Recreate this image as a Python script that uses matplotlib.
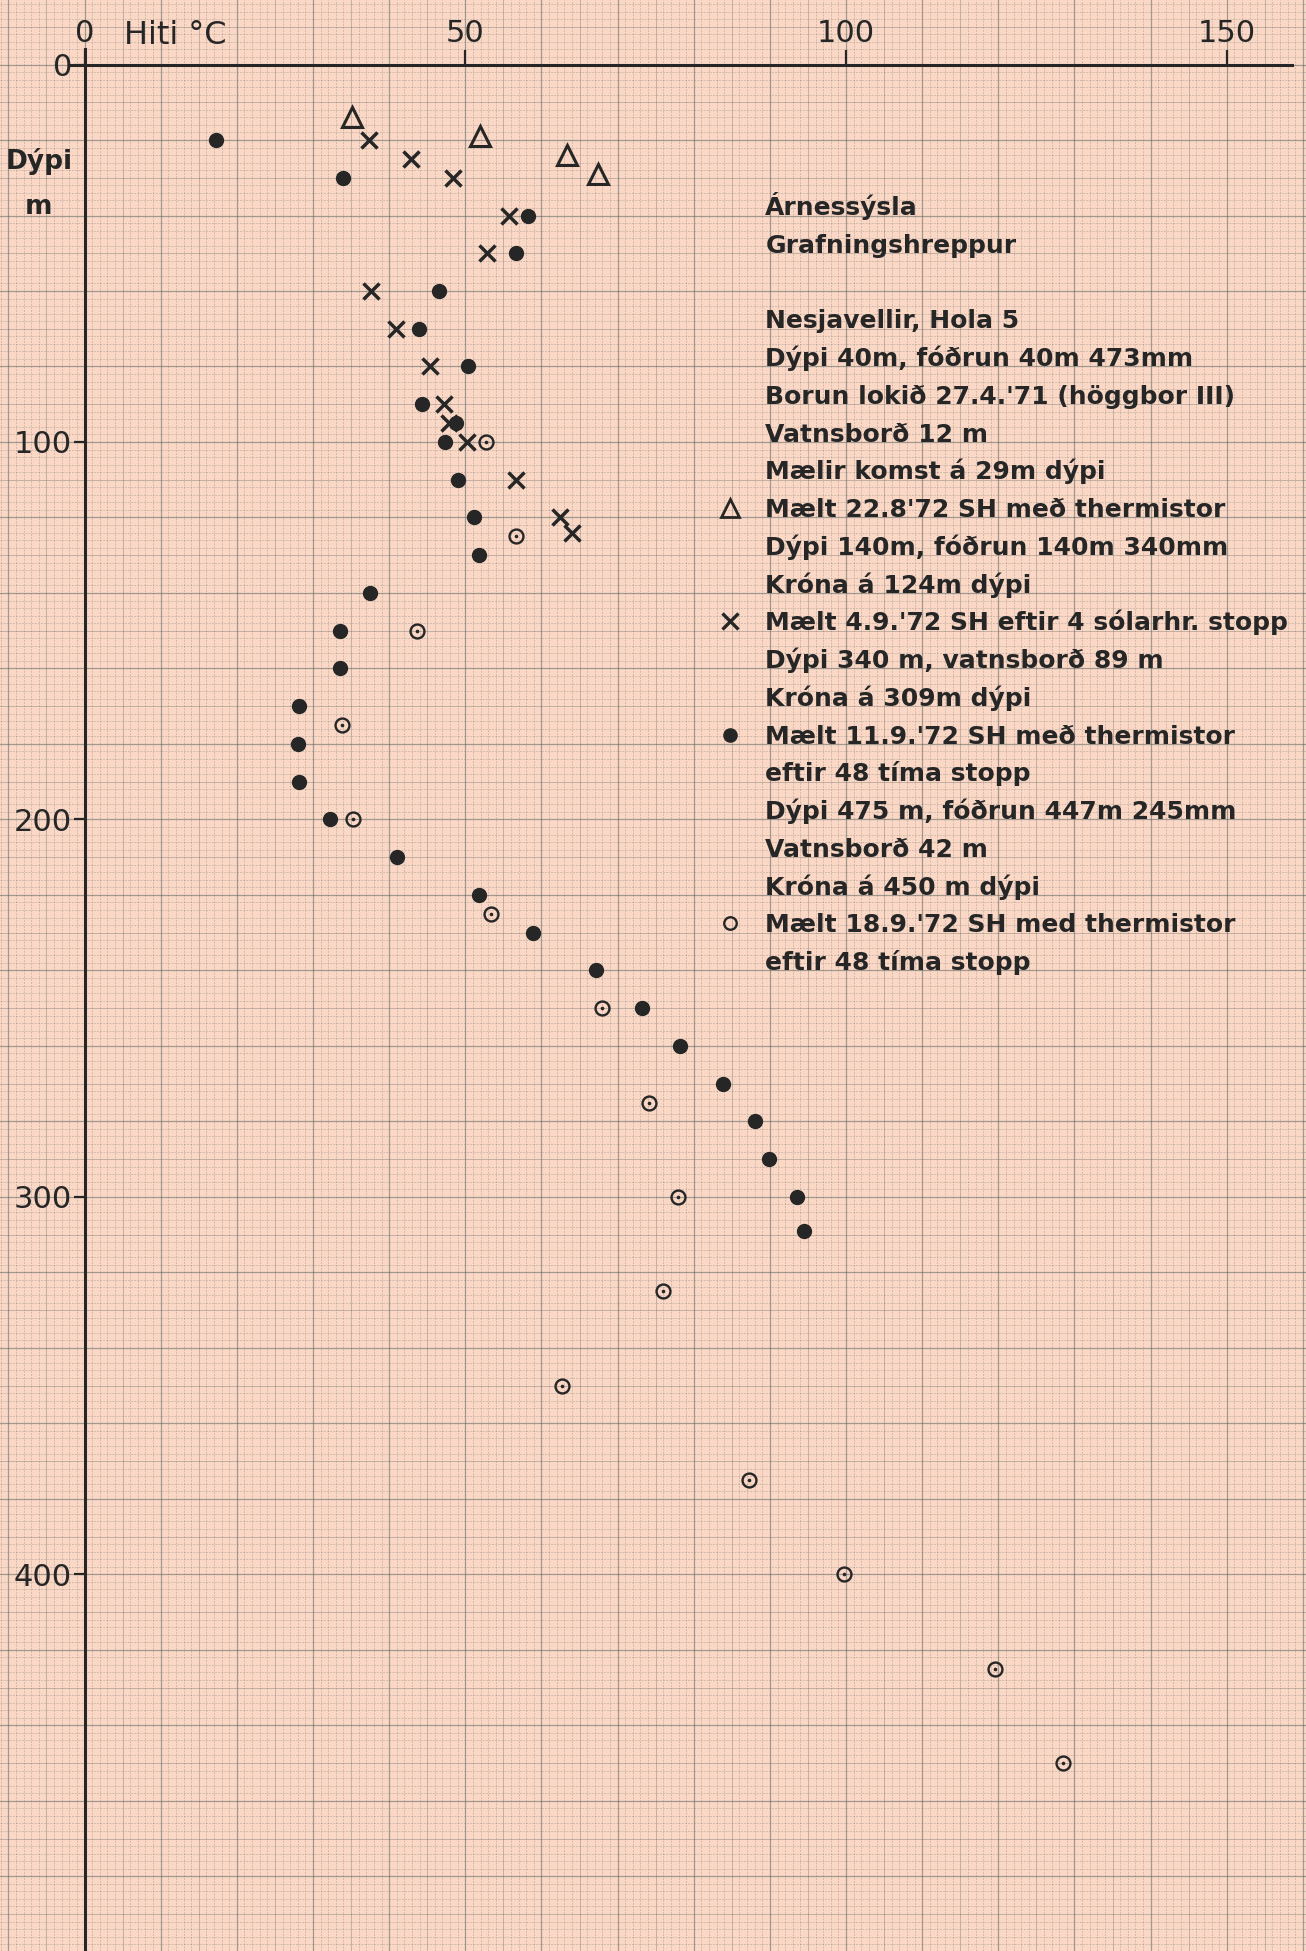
import numpy as np
import matplotlib
matplotlib.use("Agg")
import matplotlib.pyplot as plt

# ---------------- data ----------------
# Mælt 22.8.'72 (triangles)
tri_depth = [14, 19, 24, 29]
tri_temp = [35.1, 51.9, 63.3, 67.4]

# Mælt 4.9.'72 (crosses)
x_depth = [20, 25, 30, 40, 50, 60, 70, 80, 90, 95, 100, 110, 120, 124]
x_temp = [37.4, 42.9, 48.4, 55.8, 52.9, 37.6, 40.9, 45.4, 47.2, 47.8, 50.2, 56.7, 62.4, 64.0]

# Mælt 11.9.'72 (filled dots)
dot_depth = [20, 30, 40, 50, 60, 70, 80, 90, 95, 100, 110, 120, 130, 140, 150, 160,
             170, 180, 190, 200, 210, 220, 230, 240, 250, 260, 270, 280, 290, 300, 309]
dot_temp = [17.2, 33.9, 58.3, 56.7, 46.6, 43.9, 50.3, 44.3, 48.8, 47.3, 49.0, 51.2,
            51.8, 37.5, 33.5, 33.5, 28.2, 28.0, 28.2, 32.2, 41.0, 51.8, 58.9, 67.1,
            73.2, 78.2, 83.9, 88.1, 89.9, 93.5, 94.5]

# Mælt 18.9.'72 (open circles)
circ_depth = [100, 125, 150, 175, 200, 225, 250, 275, 300, 325, 350, 375, 400, 425, 450]
circ_temp = [52.7, 56.7, 43.7, 33.8, 35.3, 53.4, 67.9, 74.1, 77.9, 76.0, 62.7, 87.3,
             99.7, 119.5, 128.5]

x_ticks = [0, 50, 100, 150]
y_ticks = [0, 100, 200, 300, 400]

note_lines = [
    "Árnessýsla",
    "Grafningshreppur",
    "",
    "Nesjavellir, Hola 5",
    "Dýpi 40m, fóðrun 40m 473mm",
    "Borun lokið 27.4.'71 (höggbor III)",
    "Vatnsborð 12 m",
    "Mælir komst á 29m dýpi",
    "Mælt 22.8'72 SH með thermistor",
    "Dýpi 140m, fóðrun 140m 340mm",
    "Króna á 124m dýpi",
    "Mælt 4.9.'72 SH eftir 4 sólarhr. stopp",
    "Dýpi 340 m, vatnsborð 89 m",
    "Króna á 309m dýpi",
    "Mælt 11.9.'72 SH með thermistor",
    "eftir 48 tíma stopp",
    "Dýpi 475 m, fóðrun 447m 245mm",
    "Vatnsborð 42 m",
    "Króna á 450 m dýpi",
    "Mælt 18.9.'72 SH med thermistor",
    "eftir 48 tíma stopp",
]
# which note lines carry a symbol key
key_lines = {8: "tri", 11: "x", 14: "dot", 19: "circ"}

# ---------------- style ----------------
paper = "#FAD8C5"
ink = "#262626"
gridc = "#4d5a5a"
plt.rcParams["font.family"] = ["DejaVu Sans"]

fig = plt.figure(figsize=(13.06, 19.51), dpi=100)
fig.patch.set_facecolor(paper)
ax = fig.add_axes([0, 0, 1, 1])
ax.set_facecolor(paper)

xmin, xmax = -11.1, 160.4
ymax, ymin = 499.8, -17.1
ax.set_xlim(xmin, xmax)
ax.set_ylim(ymax, ymin)

# graph-paper grid (1 mm, 5 mm, 10 mm)
for v in np.arange(-11, 161, 1):
    if v % 10 == 0:
        kw = dict(lw=0.9, alpha=0.5, ls="-")
    elif v % 5 == 0:
        kw = dict(lw=0.7, alpha=0.32, ls="-")
    else:
        kw = dict(lw=0.7, alpha=0.24, ls=(0, (2.0, 1.2)))
    ax.axvline(v, color=gridc, zorder=0, **kw)
for h in np.arange(-16, 500, 2):
    if h % 20 == 0:
        kw = dict(lw=0.9, alpha=0.5, ls="-")
    elif h % 10 == 0:
        kw = dict(lw=0.7, alpha=0.32, ls="-")
    else:
        kw = dict(lw=0.7, alpha=0.24, ls=(0, (2.0, 1.2)))
    ax.axhline(h, color=gridc, zorder=0, **kw)

# axes lines at 0
for s in ["right", "bottom"]:
    ax.spines[s].set_visible(False)
ax.spines["top"].set_position(("data", 0))
ax.spines["left"].set_position(("data", 0))
ax.spines["top"].set_bounds(-2, 158.5)
ax.spines["left"].set_bounds(-4, ymax)
for s in ["top", "left"]:
    ax.spines[s].set_linewidth(2.2)
    ax.spines[s].set_color(ink)
    ax.spines[s].set_zorder(3)

ax.xaxis.set_ticks_position("top")
ax.xaxis.set_label_position("top")
ax.set_xticks(x_ticks)
ax.set_xticklabels([str(t) for t in x_ticks])
ax.tick_params(axis="x", direction="out", length=11, width=1.6, color=ink,
               labelsize=22, labelcolor=ink, pad=1)
ax.set_yticks(y_ticks)
ax.set_yticklabels([str(t) for t in y_ticks])
ax.tick_params(axis="y", direction="out", length=8, width=1.6, color=ink,
               labelsize=22, labelcolor=ink, pad=1)
ax.tick_params(which="minor", length=0)

# axis titles
ax.text(5.2, -5.4, "Hiti °C", fontsize=23, color=ink, ha="left", va="baseline")
ax.text(-6.0, 27.8, "Dýpi", fontsize=19, color=ink, ha="center", va="baseline",
        fontweight="bold")
ax.text(-6.0, 39.5, "m", fontsize=19, color=ink, ha="center", va="baseline",
        fontweight="bold")

# data marks
ax.plot(tri_temp, tri_depth, ls="none", marker="^", ms=14, mfc="none", mec=ink, mew=2.2, zorder=5)
ax.plot(x_temp, x_depth, ls="none", marker="x", ms=12, mec=ink, mew=2.5, zorder=5)
ax.plot(dot_temp, dot_depth, ls="none", marker="o", ms=10, mfc=ink, mec=ink, zorder=5)
ax.plot(circ_temp, circ_depth, ls="none", marker="o", ms=10, mfc="none", mec=ink, mew=1.7, zorder=5)
ax.plot(circ_temp, circ_depth, ls="none", marker="o", ms=1.6, mfc=ink, mec=ink, zorder=5)

# notes block
note_x = 89.4
first_line = 37.5
line_step = 10.0
key_x = 84.7
styles = {
    "tri": dict(marker="^", ms=13, mfc="none", mec=ink, mew=2.0),
    "x": dict(marker="x", ms=11, mec=ink, mew=2.4),
    "dot": dict(marker="o", ms=9.5, mfc=ink, mec=ink),
    "circ": dict(marker="o", ms=9, mfc="none", mec=ink, mew=1.7),
}
for i, line in enumerate(note_lines):
    yc = first_line + line_step * i
    if line:
        ax.text(note_x, yc + 2.4, line, fontsize=18, color=ink, ha="left", va="baseline",
                fontweight="bold")
    if i in key_lines:
        ax.plot([key_x], [yc], ls="none", zorder=5, **styles[key_lines[i]])

fig.savefig("out.png", dpi=100, facecolor=paper)
